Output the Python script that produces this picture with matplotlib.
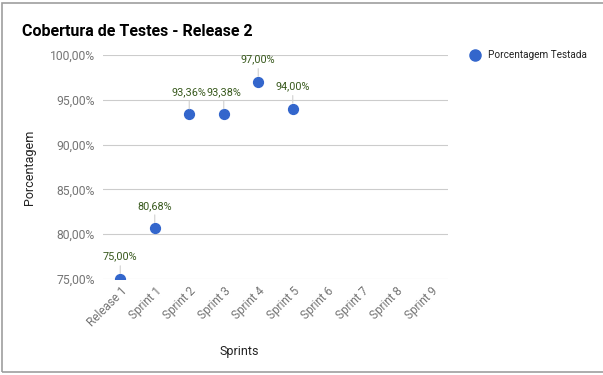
import matplotlib.pyplot as plt
from matplotlib.patches import Rectangle
from matplotlib.ticker import FuncFormatter

plt.rcParams["font.family"] = ["Roboto", "DejaVu Sans"]

# ===============================
#  Data
# ===============================

categories = ["Release 1", "Sprint 1", "Sprint 2", "Sprint 3", "Sprint 4",
              "Sprint 5", "Sprint 6", "Sprint 7", "Sprint 8", "Sprint 9"]
values = [75.00, 80.68, 93.36, 93.38, 97.00, 94.00]
y_ticks = [75, 80, 85, 90, 95, 100]

blue = "#3366cc"
green = "#38591d"
gray_text = "#757575"


def pct(v, _pos=None):
    return f"{v:.2f}%".replace(".", ",")


fig = plt.figure(figsize=(6.03, 3.75), dpi=100)
ax = fig.add_axes([103 / 603, 1 - 279 / 375, 345 / 603, 224 / 375])

x = list(range(len(values)))
ax.scatter(x, values, s=50, color=blue, zorder=3, clip_on=True)

# data labels with small leader lines
for xi, v in zip(x, values):
    ax.annotate(pct(v), xy=(xi, v), xytext=(0, 12.5), textcoords="offset points",
                ha="center", va="bottom", fontsize=7.8, color=green,
                arrowprops=dict(arrowstyle="-", color="#d0d0d0", lw=0.8,
                                shrinkA=1, shrinkB=4),
                annotation_clip=False)

ax.set_xlim(-0.5, len(categories) - 0.5)
ax.set_ylim(75, 100)
ax.set_xticks(range(len(categories)))
ax.set_xticklabels(categories, rotation=45, ha="right", rotation_mode="anchor",
                   fontsize=8.5, color=gray_text)
ax.set_yticks(y_ticks)
ax.yaxis.set_major_formatter(FuncFormatter(pct))
ax.tick_params(axis="y", labelsize=8.7, labelcolor=gray_text, length=0, pad=6)
ax.tick_params(axis="x", length=0, pad=4)

ax.grid(axis="y", color="#cccccc", lw=0.8)
ax.set_axisbelow(True)
for s in ax.spines.values():
    s.set_visible(False)

ax.set_xlabel("Sprints", fontsize=9, color="#222222")
ax.set_ylabel("Porcentagem", fontsize=9, color="#222222", labelpad=10)
ax.xaxis.set_label_coords(0.395, -0.295)

fig.text(22 / 603, 1 - 31 / 375, "Cobertura de Testes - Release 2",
         fontsize=11.5, fontweight="bold", color="#000000", va="center")

# legend
fig.lines.append(plt.Line2D([475 / 603], [1 - 55 / 375], marker="o", ms=8,
                            color=blue, ls="", transform=fig.transFigure))
fig.text(488 / 603, 1 - 55 / 375, "Porcentagem Testada", fontsize=7.2,
         color="#222222", va="center")

# outer chart border
fig.patches.append(Rectangle((2 / 603, 3 / 375), 1.0, 1 - 6 / 375,
                             transform=fig.transFigure, fill=False,
                             edgecolor="#9e9e9e", lw=1.2))

fig.savefig("out.png", dpi=100)
